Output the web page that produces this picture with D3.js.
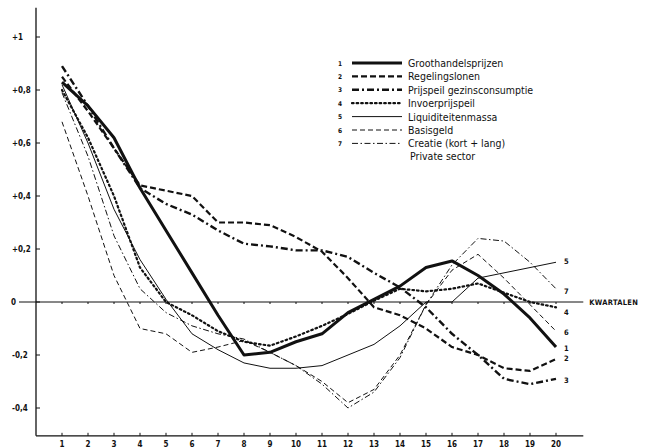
<!DOCTYPE html>
<html>
<head>
<meta charset="utf-8">
<script src="https://cdn.jsdelivr.net/npm/d3@7"></script>
<style>
  html, body { margin: 0; padding: 0; background: #ffffff; }
  svg { display: block; }
</style>
</head>
<body>
<svg id="chart" width="649" height="448"></svg>
<script>
// ---- data ----
const quarters = [1,2,3,4,5,6,7,8,9,10,11,12,13,14,15,16,17,18,19,20];
const quarterLabels = ["1","2","3","4","5","6","7","8","9","10","11","12","13","14","15","16","17","18","19","20"];
const yTickValues = [1, 0.8, 0.6, 0.4, 0.2, 0, -0.2, -0.4];
const yTickLabels = ["+1", "+0,8", "+0,6", "+0,4", "+0,2", "0", "-0,2", "-0,4"];
const seriesNames = ["Groothandelsprijzen", "Regelingslonen", "Prijspeil gezinsconsumptie",
  "Invoerprijspeil", "Liquiditeitenmassa", "Basisgeld", "Creatie (kort + lang)"];
const seriesNumbers = ["1","2","3","4","5","6","7"];

const groothandelsprijzen = [0.83, 0.74, 0.62, 0.43, 0.27, 0.11, -0.05, -0.20, -0.19, -0.15, -0.12, -0.04, 0.01, 0.06, 0.13, 0.155, 0.10, 0.03, -0.06, -0.17];
const regelingslonen = [0.85, 0.72, 0.58, 0.44, 0.42, 0.40, 0.30, 0.30, 0.29, 0.245, 0.19, 0.09, -0.02, -0.05, -0.10, -0.17, -0.20, -0.25, -0.26, -0.215];
const prijspeilGezinsconsumptie = [0.89, 0.74, 0.58, 0.43, 0.37, 0.33, 0.27, 0.22, 0.21, 0.195, 0.195, 0.17, 0.11, 0.055, -0.02, -0.12, -0.20, -0.29, -0.31, -0.29];
const invoerprijspeil = [0.80, 0.62, 0.40, 0.13, 0.0, -0.05, -0.11, -0.15, -0.165, -0.13, -0.09, -0.045, 0.005, 0.05, 0.04, 0.05, 0.07, 0.035, 0.0, -0.02];
const liquiditeitenmassa = [0.82, 0.60, 0.35, 0.16, 0.01, -0.12, -0.18, -0.23, -0.25, -0.25, -0.24, -0.20, -0.16, -0.09, 0.0, 0.0, 0.09, 0.11, 0.13, 0.15];
const basisgeld = [0.68, 0.40, 0.10, -0.10, -0.12, -0.19, -0.17, -0.145, -0.19, -0.24, -0.30, -0.38, -0.33, -0.20, -0.01, 0.12, 0.18, 0.09, -0.01, -0.11];
const creatie = [0.79, 0.55, 0.25, 0.05, -0.04, -0.09, -0.12, -0.14, -0.19, -0.24, -0.31, -0.40, -0.34, -0.21, -0.01, 0.14, 0.24, 0.23, 0.15, 0.05];

const allSeries = [groothandelsprijzen, regelingslonen, prijspeilGezinsconsumptie,
  invoerprijspeil, liquiditeitenmassa, basisgeld, creatie];

// ---- styles (per series) ----
const styles = [
  { w: 3.0, dash: null },
  { w: 2.2, dash: "6,3" },
  { w: 2.4, dash: "7,3,2,3" },
  { w: 2.2, dash: "1.6,3" },
  { w: 1.0, dash: null },
  { w: 1.0, dash: "5,3" },
  { w: 1.0, dash: "6,2.5,1.5,2.5" }
];

// ---- scales ----
const x = d3.scaleLinear().domain([1, 20]).range([62, 556]);
const y = d3.scaleLinear().domain([0, 1]).range([302, 37]);

const svg = d3.select("#chart");
const ink = "#111";
const numFont = "'DejaVu Sans Condensed', 'DejaVu Sans', sans-serif";
const textFont = "'Liberation Sans Narrow', 'Arial Narrow', 'DejaVu Sans Condensed', sans-serif";

// frame: y-axis and bottom axis
const yTop = y(1.11), yBottom = y(-0.505);
const xLeft = x(0.0), xRight = x(21.05);
svg.append("line").attr("x1", xLeft).attr("x2", xLeft).attr("y1", yTop).attr("y2", yBottom)
  .attr("stroke", ink).attr("stroke-width", 1.3);
svg.append("line").attr("x1", xLeft).attr("x2", xRight).attr("y1", yBottom).attr("y2", yBottom)
  .attr("stroke", ink).attr("stroke-width", 1.3);

// y ticks (pointing right) and labels
svg.selectAll(".ytick").data(yTickValues).enter().append("line")
  .attr("x1", xLeft).attr("x2", xLeft + 4)
  .attr("y1", d => y(d)).attr("y2", d => y(d))
  .attr("stroke", ink).attr("stroke-width", 1);
svg.selectAll(".ylab").data(yTickValues).enter().append("text")
  .attr("x", (d, i) => yTickLabels[i] === "0" ? 11 : 12)
  .attr("y", d => y(d) + 3)
  .attr("font-family", numFont).attr("font-weight", "bold").attr("font-size", 8)
  .attr("fill", ink)
  .text((d, i) => yTickLabels[i]);

// zero line (extends left to the "0" label and right to KWARTALEN)
svg.append("line").attr("x1", 19).attr("x2", xRight).attr("y1", y(0)).attr("y2", y(0))
  .attr("stroke", ink).attr("stroke-width", 1);
svg.selectAll(".ztick").data(quarters).enter().append("line")
  .attr("x1", d => x(d)).attr("x2", d => x(d))
  .attr("y1", y(0)).attr("y2", y(0) + 2)
  .attr("stroke", ink).attr("stroke-width", 1);
svg.append("text").attr("x", xRight + 6).attr("y", y(0) + 3)
  .attr("font-family", numFont).attr("font-weight", "bold").attr("font-size", 7.5)
  .attr("letter-spacing", 0.3)
  .attr("fill", ink).text("KWARTALEN");

// x ticks and labels
svg.selectAll(".xtick").data(quarters).enter().append("line")
  .attr("x1", d => x(d)).attr("x2", d => x(d))
  .attr("y1", yBottom).attr("y2", yBottom - 3)
  .attr("stroke", ink).attr("stroke-width", 1);
svg.selectAll(".xlab").data(quarters).enter().append("text")
  .attr("x", d => x(d)).attr("y", yBottom + 11)
  .attr("text-anchor", "middle")
  .attr("font-family", numFont).attr("font-weight", "bold").attr("font-size", 8)
  .attr("fill", ink)
  .text((d, i) => quarterLabels[i]);

// series lines
const line = d3.line().x((d, i) => x(quarters[i])).y(d => y(d));
allSeries.forEach((s, k) => {
  svg.append("path").datum(s)
    .attr("d", line)
    .attr("fill", "none")
    .attr("stroke", ink)
    .attr("stroke-width", styles[k].w)
    .attr("stroke-linejoin", "round")
    .attr("stroke-linecap", k === 3 ? "round" : "butt")
    .attr("stroke-dasharray", styles[k].dash);
});

// end labels (series numbers) at right end
const endLabelY = [348, 358, 380, 312, 261, 332, 291];
allSeries.forEach((s, k) => {
  svg.append("text")
    .attr("x", x(20) + 8)
    .attr("y", endLabelY[k] + 3)
    .attr("font-family", numFont).attr("font-weight", "bold").attr("font-size", 7.5)
    .attr("fill", ink).text(seriesNumbers[k]);
});

// legend
const legX = 338, legY0 = 63, legStep = 13.4;
seriesNames.forEach((name, k) => {
  const yy = legY0 + k * legStep;
  svg.append("text").attr("x", legX).attr("y", yy + 2.5)
    .attr("font-family", numFont).attr("font-weight", "bold").attr("font-size", 6.5)
    .attr("fill", ink).text(seriesNumbers[k]);
  svg.append("line").attr("x1", 352).attr("x2", 402).attr("y1", yy).attr("y2", yy)
    .attr("stroke", ink).attr("stroke-width", styles[k].w)
    .attr("stroke-linecap", k === 3 ? "round" : "butt")
    .attr("stroke-dasharray", styles[k].dash);
  svg.append("text").attr("x", 408).attr("y", yy + 4)
    .attr("font-family", textFont).attr("font-size", 10.5)
    .attr("fill", ink).text(name);
});
svg.append("text").attr("x", 410).attr("y", legY0 + 6 * legStep + 4 + 12.8)
  .attr("font-family", textFont).attr("font-size", 10.5)
  .attr("fill", ink).text("Private sector");
</script>
</body>
</html>
